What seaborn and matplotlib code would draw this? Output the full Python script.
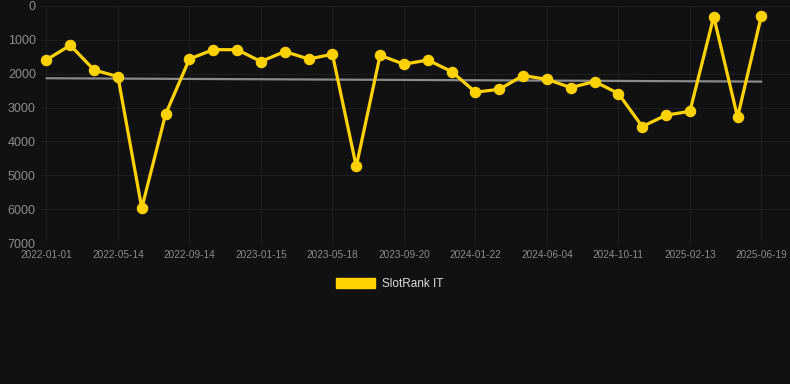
import matplotlib
matplotlib.use("Agg")
import matplotlib.pyplot as plt
import numpy as np
import pandas as pd
import seaborn as sns
from matplotlib.patches import Patch

# Rank values (lower = better, y axis inverted)
ranks = [1590, 1160, 1890, 2085, 5970, 3195, 1565, 1290, 1290, 1640,
         1345, 1565, 1425, 4740, 1455, 1720, 1595, 1935, 2545, 2460,
         2055, 2165, 2410, 2230, 2585, 3560, 3225, 3110, 315, 3285, 285]
tick_labels = ["2022-01-01", "2022-05-14", "2022-09-14", "2023-01-15",
               "2023-05-18", "2023-09-20", "2024-01-22", "2024-06-04",
               "2024-10-11", "2025-02-13", "2025-06-19"]
series_name = "SlotRank IT"

BG = "#111111"
GOLD = "#FFD200"

sns.set_theme(style="dark")
plt.rcParams["font.family"] = ["Liberation Sans", "DejaVu Sans"]

df = pd.DataFrame({"idx": np.arange(len(ranks)), "rank": ranks})

fig = plt.figure(figsize=(7.9, 3.84), dpi=100, facecolor=BG)
ax = fig.add_axes([40 / 790, 1 - 243 / 384, 750 / 790, 237 / 384])
ax.set_facecolor(BG)

sns.regplot(data=df, x="idx", y="rank", scatter=False, ci=None, ax=ax,
            line_kws={"color": "#8a8a8a", "linewidth": 1.6, "zorder": 2})
sns.lineplot(data=df, x="idx", y="rank", ax=ax, color=GOLD, linewidth=2.3,
             marker="o", markersize=7.5, markeredgecolor=GOLD, zorder=3)

ax.set_ylim(7000, 0)
ax.set_yticks(range(0, 7001, 1000))
ax.set_xlim(-0.27, 31.2)
ax.set_xticks(range(0, len(ranks), 3))
ax.set_xticklabels(tick_labels)
ax.set_xlabel("")
ax.set_ylabel("")

ax.grid(True, color="#1e1e1e", linewidth=0.8)
for s in ax.spines.values():
    s.set_visible(False)
ax.tick_params(axis="y", colors="#8c8c8c", labelsize=9, length=0, pad=3)
ax.tick_params(axis="x", colors="#8c8c8c", labelsize=7.2, length=0, pad=5)

fig.legend(handles=[Patch(facecolor=GOLD, edgecolor=GOLD, label=series_name)],
           loc="center", bbox_to_anchor=(0.493, 1 - 284 / 384), frameon=False,
           handlelength=3.3, handleheight=1.0, handletextpad=0.6,
           fontsize=8.5, labelcolor="#dddddd")

fig.savefig("out.png", dpi=100, facecolor=BG)
